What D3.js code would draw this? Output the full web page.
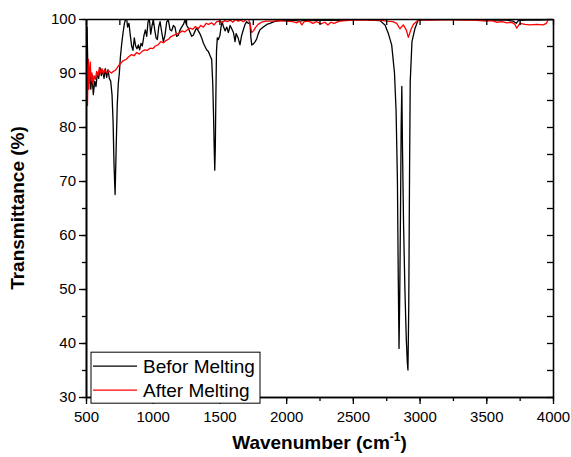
<!DOCTYPE html>
<html>
<head>
<meta charset="utf-8">
<script src="https://cdn.jsdelivr.net/npm/d3@7"></script>
<style>
  body { margin: 0; background: #fff; }
  text { font-family: Arial, "Liberation Sans", sans-serif; }
</style>
</head>
<body>
<div class="ftir"></div>
<script>
// series names
var seriesNames = ["Befor Melting", "After Melting"];
var seriesColors = ["#000000", "#ff0000"];

// Befor Melting: [wavenumber, transmittance]
var beforMelting = [
  [500,100],[503,95],[508,98.5],[513,92],[520,88],[528,91],[536,87],[545,89.5],[555,86],[565,88.5],
  [575,87.5],[585,90],[595,89],[605,91],[615,89.5],[625,90.5],[635,89],[645,90.8],[655,89.2],[665,90.6],
  [675,89],[685,88.5],[695,86],[703,81],[710,73],[718,67.5],[726,76],[734,84],[742,88],[750,90],
  [758,93],[768,95.5],[778,97.5],[788,99.2],[797,100],[805,100],[812,98.5],[822,99.2],[832,97],[842,95],
  [852,94.2],[862,96.5],[872,95],[882,94.5],[892,95.2],[902,94.3],[912,95.5],[922,95],[935,97],[945,98],
  [955,96.8],[965,99.5],[975,100],[985,97.2],[995,98.8],[1005,99.8],[1015,98],[1025,96.5],[1035,96.2],[1045,98.5],
  [1055,99.5],[1068,97.5],[1080,95.8],[1092,97],[1105,99.5],[1117,99.8],[1130,98],[1142,97.8],[1155,98.8],[1167,98.5],
  [1180,96.8],[1192,97],[1205,98],[1217,98.5],[1230,99],[1242,99.8],[1255,98.8],[1267,98.3],[1280,97.5],[1292,96.8],
  [1304,97],[1318,97.8],[1330,98.4],[1342,97.8],[1355,97.2],[1367,96.5],[1380,95.5],[1392,94.9],[1404,94.3],[1417,94],
  [1430,93.2],[1442,92.5],[1450,88],[1456,82],[1461,76],[1465,72],[1469,76],[1473,85],[1478,94],[1484,96.5],
  [1492,96.2],[1504,97],[1512,98.5],[1520,99.5],[1530,98.6],[1542,97.8],[1555,98.5],[1567,97.5],[1580,98.8],[1592,98.2],
  [1605,97.5],[1617,95.8],[1625,97.3],[1640,96.5],[1654,95.2],[1665,96.8],[1679,98],[1692,99],[1704,99.5],[1716,99.2],
  [1729,99.3],[1736,96.5],[1742,95.2],[1755,95.4],[1768,95.8],[1779,96.3],[1790,97.2],[1804,98],[1829,98.5],[1855,99],
  [1879,99.2],[1910,99.5],[1954,99.7],[2000,99.7],[2050,99.8],[2100,99.6],[2150,99.8],[2200,99.7],[2300,99.8],[2400,99.7],
  [2500,99.9],[2600,99.9],[2628,99.8],[2703,99.7],[2741,98.9],[2766,97.3],[2791,95.2],[2812,90],[2824,83],[2834,70],
  [2840,53],[2846,39],[2851,48],[2857,64],[2862,80],[2867,87.5],[2872,76],[2880,62],[2890,50],[2900,41],
  [2908,36.5],[2913,35],[2919,47],[2925,72],[2930,88.4],[2943,95.8],[2966,98.3],[2990,99.8],[3100,99.9],[3300,99.9],
  [3500,99.8],[3650,99.8],[3700,99.6],[3725,99.2],[3740,99.7],[3800,99.8],[3900,99.8],[4000,99.9]
];

// After Melting: [wavenumber, transmittance]
var afterMelting = [
  [500,92],[504,90],[508,86],[511,84],[514,88],[518,92.5],[522,87],[527,90],[532,92],[538,88.5],
  [545,90],[552,88],[560,89.5],[570,88.8],[580,90.3],[590,89.5],[600,91],[610,90],[620,90.8],[630,89.8],
  [640,90.6],[650,90.2],[660,90],[670,90.4],[680,90.2],[690,90],[700,90.2],[720,90.5],[740,91.2],[760,91.8],
  [780,92.3],[800,92.5],[820,93],[840,93.4],[860,93.2],[880,93.8],[900,93.5],[920,94],[940,94.3],[960,94.2],
  [980,94.6],[1000,94.5],[1020,95],[1040,95.2],[1060,95.8],[1080,95.6],[1100,96],[1120,96.3],[1140,96.8],[1160,97],
  [1180,97.2],[1200,97.4],[1220,97.8],[1240,97.6],[1260,98],[1280,98.3],[1300,98.1],[1320,98.6],[1340,98.2],[1360,98.8],
  [1380,98.5],[1400,99.2],[1420,99],[1440,99.3],[1460,98.9],[1480,99.5],[1500,99.6],[1520,99.3],[1540,99.7],[1560,99.5],
  [1580,99.8],[1600,99.4],[1620,99.9],[1640,99.6],[1660,99.8],[1680,99.5],[1700,99.9],[1718,100],[1730,99],[1742,97.5],
  [1755,97.8],[1770,98.4],[1790,99],[1815,99.4],[1850,99.6],[1900,99.6],[1950,99.7],[2000,99.6],[2050,99.5],[2080,99.3],
  [2100,99.6],[2118,98.9],[2135,99.5],[2170,99.6],[2200,99.2],[2230,99.5],[2260,99.1],[2290,99.4],[2313,98.9],[2335,99.4],
  [2360,99.2],[2400,99.6],[2450,99.7],[2500,99.8],[2600,99.8],[2700,99.8],[2753,99.6],[2800,99.5],[2828,99.2],[2853,98.2],
  [2878,98.9],[2900,98],[2916,96.6],[2935,98],[2953,99],[2990,99.8],[3100,99.8],[3200,99.9],[3300,99.8],[3400,99.8],
  [3503,99.6],[3540,99.7],[3578,99.4],[3620,99.5],[3653,99.3],[3690,99.4],[3715,99],[3728,98.3],[3752,99.2],[3790,99],
  [3828,98.9],[3880,99],[3927,98.9],[3950,99.2],[3965,99.9],[4000,100]
];

var xTicks = [500, 1000, 1500, 2000, 2500, 3000, 3500, 4000];
var yTicks = [30, 40, 50, 60, 70, 80, 90, 100];

var margin = {top: 19, right: 18, bottom: 60, left: 86},
    width = 571 - margin.left - margin.right,
    height = 457 - margin.top - margin.bottom;

var svg = d3.select(".ftir").append("svg")
    .attr("width", 571)
    .attr("height", 457)
  .append("g")
    .attr("transform", "translate(" + margin.left + "," + margin.top + ")");

var x = d3.scaleLinear().domain([500, 4000]).range([0, width]);
var y = d3.scaleLinear().domain([30, 100]).range([height, 0]);

svg.append("clipPath").attr("id", "clip")
  .append("rect").attr("width", width).attr("height", height);

var line = d3.line()
    .x(function(d) { return x(d[0]); })
    .y(function(d) { return y(d[1]); });

// spectra
[beforMelting, afterMelting].forEach(function(s, i) {
  svg.append("path")
      .datum(s)
      .attr("clip-path", "url(#clip)")
      .attr("fill", "none")
      .attr("stroke", seriesColors[i])
      .attr("stroke-width", 1.3)
      .attr("stroke-linejoin", "round")
      .attr("d", line);
});

var minorX = d3.range(500, 4001, 250),
    minorY = d3.range(30, 101, 5);

function styleAxis(g) {
  g.selectAll(".domain").attr("stroke-width", 1.6);
  g.selectAll("line").attr("stroke-width", 1.3);
  g.selectAll("text").attr("font-size", "15px").attr("font-family", "Arial, 'Liberation Sans', sans-serif");
}

// bottom axis: minor then major
svg.append("g").attr("transform", "translate(0," + height + ")")
    .call(d3.axisBottom(x).tickValues(minorX).tickSize(4).tickFormat("").tickSizeOuter(0))
    .call(styleAxis);
svg.append("g").attr("transform", "translate(0," + height + ")")
    .call(d3.axisBottom(x).tickValues(xTicks).tickSize(7).tickPadding(7).tickSizeOuter(0).tickFormat(d3.format("d")))
    .call(styleAxis);

// left axis
svg.append("g")
    .call(d3.axisLeft(y).tickValues(minorY).tickSize(4).tickFormat("").tickSizeOuter(0))
    .call(styleAxis);
svg.append("g")
    .call(d3.axisLeft(y).tickValues(yTicks).tickSize(7).tickPadding(3).tickSizeOuter(0).tickFormat(d3.format("d")))
    .call(styleAxis);

// top and right axes, inward ticks
svg.append("g")
    .call(d3.axisTop(x).tickValues(minorX).tickSize(-6).tickFormat("").tickSizeOuter(0))
    .call(styleAxis);
svg.append("g").attr("transform", "translate(" + width + ",0)")
    .call(d3.axisRight(y).tickValues(minorY).tickSize(-6).tickFormat("").tickSizeOuter(0))
    .call(styleAxis);

// axis titles
svg.append("text")
    .attr("transform", "rotate(-90)")
    .attr("x", -height / 2)
    .attr("y", -62)
    .attr("text-anchor", "middle")
    .attr("font-size", "19px")
    .attr("font-weight", "bold")
    .text("Transmittance (%)");

var xt = svg.append("text")
    .attr("x", width / 2)
    .attr("y", height + 52)
    .attr("text-anchor", "middle")
    .attr("font-size", "19px")
    .attr("font-weight", "bold");
xt.append("tspan").text("Wavenumber (cm");
xt.append("tspan").attr("font-size", "12px").attr("dy", -8).text("-1");
xt.append("tspan").attr("dy", 8).text(")");

// legend
var legend = svg.append("g").attr("transform", "translate(5," + (y(38.3)) + ")");
legend.append("rect")
    .attr("width", 169).attr("height", 51)
    .attr("fill", "#fff").attr("stroke", "#000").attr("stroke-width", 1);
seriesNames.forEach(function(name, i) {
  var yy = 14 + i * 24;
  legend.append("line")
      .attr("x1", 2).attr("x2", 46).attr("y1", yy).attr("y2", yy)
      .attr("stroke", seriesColors[i]).attr("stroke-width", 1.3);
  legend.append("text")
      .attr("x", 52).attr("y", yy + 7)
      .attr("font-size", "19px")
      .text(name);
});
</script>
</body>
</html>
